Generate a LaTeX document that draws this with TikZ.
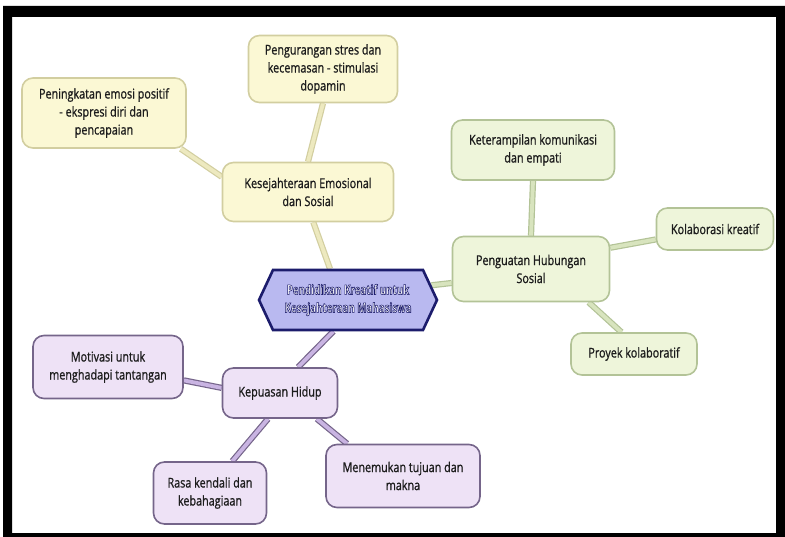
\documentclass[tikz,border=0pt]{standalone}
\usepackage{fontspec}
\setmainfont{Open Sans}[FakeStretch=0.8, FakeBold=1]
\newfontfamily\hubfont{Open Sans Bold}[FakeStretch=0.72]
\usetikzlibrary{shapes.symbols}
\usetikzlibrary{backgrounds}
\definecolor{txtgray}{HTML}{1C1C1C}
\definecolor{yfill}{HTML}{FBF8D4}
\definecolor{yedge}{HTML}{D2CEA0}
\definecolor{ylinkfill}{HTML}{EDE9BF}
\definecolor{gfill}{HTML}{EEF5DA}
\definecolor{gedge}{HTML}{B3C397}
\definecolor{glinkfill}{HTML}{D8E4BE}
\definecolor{pfill}{HTML}{EEE2F6}
\definecolor{pedge}{HTML}{75658A}
\definecolor{plinkfill}{HTML}{C9B4E2}
\definecolor{hubfill}{HTML}{B9B9F0}
\definecolor{hubedge}{HTML}{1C1C6C}
% white letters with a dark rim
\newcommand{\rimtext}[1]{\special{pdf:literal direct 2 Tr 0.55 w 0.11 0.11 0.42 RG}#1\special{pdf:literal direct 0 Tr}}
\tikzset{
	% box styles
	mapbox/.style={rounded corners=11pt, line width=1.6pt, align=center,
		font=\fontsize{13.5}{18}\selectfont, text=txtgray, inner sep=2pt},
	ybox/.style={mapbox, draw=yedge, fill=yfill},
	gbox/.style={mapbox, draw=gedge, fill=gfill},
	pbox/.style={mapbox, draw=pedge, fill=pfill},
	hubnode/.style={signal, signal to=east and west, signal pointer angle=130,
		draw=hubedge, fill=hubfill, line width=2.6pt, align=center,
		font=\hubfont\fontsize{13.5}{18}\selectfont, text=white,
		minimum width=178pt, minimum height=60pt, inner sep=1pt},
	% connector styles
	ylink/.style={draw=yedge, double=ylinkfill, double distance=3.8pt, line width=1.2pt},
	glink/.style={draw=gedge, double=glinkfill, double distance=3.8pt, line width=1.2pt},
	plink/.style={draw=pedge, double=plinkfill, double distance=3.8pt, line width=1.2pt},
}
\begin{document}
\begin{tikzpicture}[x=1pt,y=-1pt]
\useasboundingbox (0,0) rectangle (785,537);
% the frame
\fill[black, even odd rule] (3,6) rectangle (785,537) (12,17) rectangle (776,533);

% the centre
\node[hubnode] (hub) at (348,300) {\rimtext{Pendidikan Kreatif untuk}\\\rimtext{Kesejahteraan Mahasiswa}};

% emotional branch
\node[ybox, minimum width=171pt, minimum height=59pt] (emosional) at (308,192) {Kesejahteraan Emosional\\dan Sosial};
\node[ybox, minimum width=164pt, minimum height=70pt] (peningkatan) at (104,113) {Peningkatan emosi positif\\- ekspresi diri dan\\pencapaian};
\node[ybox, minimum width=149pt, minimum height=67pt] (pengurangan) at (323,69) {Pengurangan stres dan\\kecemasan - stimulasi\\dopamin};

% social branch
\node[gbox, minimum width=157pt, minimum height=65pt] (penguatan) at (531,269) {Penguatan Hubungan\\Sosial};
\node[gbox, minimum width=163pt, minimum height=60pt] (keterampilan) at (533,150) {Keterampilan komunikasi\\dan empati};
\node[gbox, minimum width=117pt, minimum height=42pt] (kolaborasi) at (715,229) {Kolaborasi kreatif};
\node[gbox, minimum width=126pt, minimum height=42pt] (proyek) at (634,354) {Proyek kolaboratif};

% life satisfaction branch
\node[pbox, minimum width=115pt, minimum height=50pt] (kepuasan) at (280,393) {Kepuasan Hidup};
\node[pbox, minimum width=150pt, minimum height=63pt] (motivasi) at (108,367) {Motivasi untuk\\menghadapi tantangan};
\node[pbox, minimum width=113pt, minimum height=62pt] (rasa) at (210,493) {Rasa kendali dan\\kebahagiaan};
\node[pbox, minimum width=154pt, minimum height=63pt] (menemukan) at (403,476) {Menemukan tujuan dan\\makna};

% connectors behind the boxes
\begin{pgfonlayer}{background}
\draw[ylink] (peningkatan.-25) -- (emosional.170);
\draw[ylink] (pengurangan.south) -- (emosional.north);
\draw[ylink] (emosional.-80) -- (hub.120);
\draw[glink] (hub.10) -- (penguatan.190);
\draw[glink] (penguatan.north) -- (keterampilan.south);
\draw[glink] (penguatan.15) -- (kolaborasi.190);
\draw[glink] (penguatan.-30) -- (proyek.120);
\draw[plink] (hub.-115) -- (kepuasan.55);
\draw[plink] (kepuasan.175) -- (motivasi.-10);
\draw[plink] (kepuasan.-115) -- (rasa.55);
\draw[plink] (kepuasan.-35) -- (menemukan.150);
\end{pgfonlayer}
\end{tikzpicture}
\end{document}
